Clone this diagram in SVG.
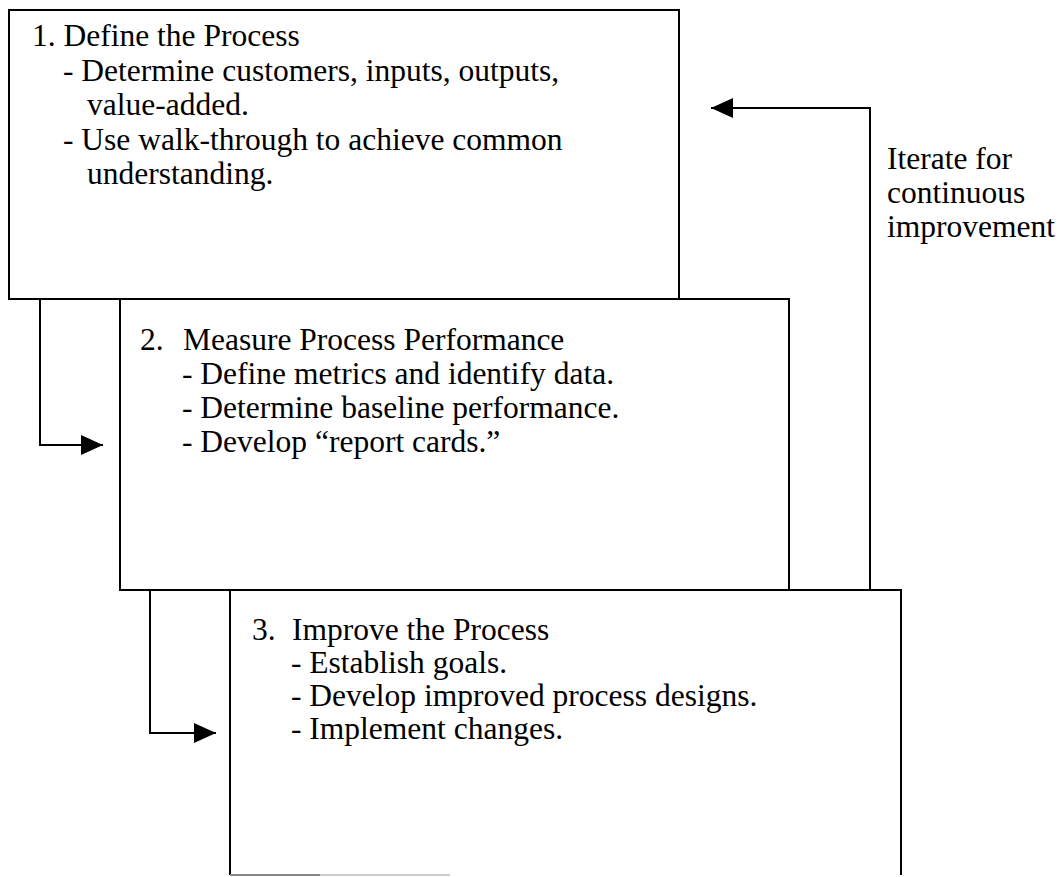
<svg xmlns="http://www.w3.org/2000/svg" width="1064" height="877" viewBox="0 0 1064 877">
<defs>
<style>
.box{fill:none;stroke:#000;stroke-width:2}
.t{font-family:"Liberation Serif","Times New Roman",serif;font-size:31.5px;fill:#000}
.c{fill:none;stroke:#000;stroke-width:2}
</style>
<marker id="ah" markerUnits="userSpaceOnUse" markerWidth="24" markerHeight="22" refX="22" refY="10" orient="auto">
<path d="M0,0 L22,10 L0,20 Z" fill="#000"/>
</marker>
</defs>
<rect width="1064" height="877" fill="#fff"/>
<g id="node1">
<rect class="box" x="9" y="10" width="670" height="289"/>
<text class="t" x="32" y="46">1. Define the Process</text>
<text class="t" x="63" y="81">- Determine customers, inputs, outputs,</text>
<text class="t" x="87" y="115">value-added.</text>
<text class="t" x="63" y="150">- Use walk-through to achieve common</text>
<text class="t" x="87" y="184">understanding.</text>
</g>
<g id="node2">
<rect class="box" x="120" y="299" width="669" height="291"/>
<text class="t" y="350"><tspan x="140">2.</tspan><tspan x="183">Measure Process Performance</tspan></text>
<text class="t" x="182" y="384">- Define metrics and identify data.</text>
<text class="t" x="182" y="418">- Determine baseline performance.</text>
<text class="t" x="182" y="452">- Develop “report cards.”</text>
</g>
<g id="node3">
<path class="box" d="M230,875 V590 H901 V875"/>
<line x1="230" y1="875" x2="320" y2="875" stroke="#888" stroke-width="2"/>
<line x1="320" y1="875" x2="450" y2="875" stroke="#ccc" stroke-width="2"/>
<text class="t" y="640"><tspan x="252">3.</tspan><tspan x="292">Improve the Process</tspan></text>
<text class="t" x="291" y="673">- Establish goals.</text>
<text class="t" x="291" y="706">- Develop improved process designs.</text>
<text class="t" x="291" y="739">- Implement changes.</text>
</g>
<g id="label-iterate">
<text class="t" x="887" y="169">Iterate for</text>
<text class="t" x="887" y="203">continuous</text>
<text class="t" x="887" y="237">improvement</text>
</g>
<g id="connectors">
<path class="c" d="M40,299 V445 H103" marker-end="url(#ah)"/>
<path class="c" d="M150,590 V733 H216" marker-end="url(#ah)"/>
<path class="c" d="M870,590 V108 H711" marker-end="url(#ah)"/>
</g>
</svg>
